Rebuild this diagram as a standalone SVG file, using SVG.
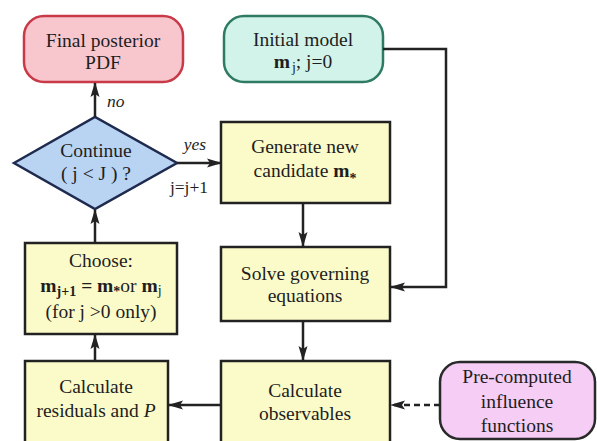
<svg xmlns="http://www.w3.org/2000/svg" width="597" height="441" viewBox="0 0 597 441" font-family="'Liberation Serif', 'Times New Roman', serif">
<defs>
<style>
text{font-family:'Liberation Serif','Times New Roman',serif;font-size:19.5px;fill:#1e1e1e;text-anchor:middle}
.box{fill:#fbfbc9;stroke:#222;stroke-width:2.5}
.conn{fill:none;stroke:#222;stroke-width:2.5}
.it{font-style:italic}
.b{font-weight:bold}
.sub{font-size:14px}
.lbl{font-size:17.5px}
</style>
<marker id="ah" markerUnits="userSpaceOnUse" markerWidth="16" markerHeight="12" refX="14" refY="6" orient="auto">
<path d="M0,1.5 L15,6 L0,10.5 L3,6 Z" fill="#222"/>
</marker>
</defs>
<rect width="597" height="441" fill="#fff"/>
<g id="final">
<rect x="24" y="16" width="159" height="66" rx="20" fill="#f8c6cd" stroke="#c83a48" stroke-width="2.5"/>
<text x="103" y="47">Final posterior</text>
<text x="103" y="69">PDF</text>
</g>
<g id="initial">
<rect x="224" y="16" width="159" height="66" rx="20" fill="#d2f3ea" stroke="#2e7a62" stroke-width="2.5"/>
<text x="303" y="46">Initial model</text>
<text x="303" y="68"><tspan class="b">m</tspan><tspan class="sub" dx="2" dy="4">j</tspan><tspan dy="-4">;  j=0</tspan></text>
</g>
<g id="decision">
<polygon points="14,163 95,117 177,163 95,209" fill="#b9d3f3" stroke="#1e2a4e" stroke-width="2.5"/>
<text x="96" y="157">Continue</text>
<text x="96" y="180">( j &lt; J ) ?</text>
</g>
<g id="generate">
<rect class="box" x="221" y="122" width="169" height="81"/>
<text x="305" y="153">Generate new</text>
<text x="305" y="177">candidate <tspan class="b">m</tspan><tspan class="sub b" dy="6">*</tspan></text>
</g>
<g id="choose">
<rect class="box" x="25" y="243" width="152" height="91"/>
<text x="101" y="267">Choose:</text>
<text x="101" y="292"><tspan class="b">m</tspan><tspan class="sub b" dy="4">j+1</tspan><tspan class="b" dy="-4"> = m</tspan><tspan class="sub b" dy="4">*</tspan><tspan dy="-4">or </tspan><tspan class="b">m</tspan><tspan class="sub" dy="3">j</tspan></text>
<text x="101" y="318">(for j &gt;0 only)</text>
</g>
<g id="solve">
<rect class="box" x="221" y="247" width="169" height="74"/>
<text x="305" y="280">Solve governing</text>
<text x="305" y="302">equations</text>
</g>
<g id="residuals">
<rect class="box" x="25" y="361" width="143" height="90"/>
<text x="96" y="393">Calculate</text>
<text x="96" y="417">residuals and <tspan class="it">P</tspan></text>
</g>
<g id="observables">
<rect class="box" x="221" y="361" width="169" height="90"/>
<text x="305" y="397">Calculate</text>
<text x="305" y="420">observables</text>
</g>
<g id="precomputed">
<rect x="440" y="362" width="155" height="77" rx="20" fill="#f5cdf5" stroke="#2a2a2a" stroke-width="2.5"/>
<text x="517" y="383">Pre-computed</text>
<text x="517" y="408">influence</text>
<text x="517" y="432">functions</text>
</g>
<g id="connectors">
<line class="conn" x1="95" y1="117" x2="95" y2="83" marker-end="url(#ah)"/>
<line class="conn" x1="177" y1="163" x2="221" y2="163" marker-end="url(#ah)"/>
<line class="conn" x1="95" y1="243" x2="95" y2="210" marker-end="url(#ah)"/>
<line class="conn" x1="95" y1="361" x2="95" y2="335" marker-end="url(#ah)"/>
<line class="conn" x1="303" y1="203" x2="303" y2="246" marker-end="url(#ah)"/>
<line class="conn" x1="303" y1="321" x2="303" y2="360" marker-end="url(#ah)"/>
<line class="conn" x1="221" y1="405" x2="169" y2="405" marker-end="url(#ah)"/>
<line class="conn" x1="440" y1="405" x2="391" y2="405" stroke-dasharray="6,4" marker-end="url(#ah)"/>
<polyline class="conn" points="383,49 446,49 446,287 391,287" marker-end="url(#ah)"/>
<text class="it lbl" x="107" y="107" style="text-anchor:start">no</text>
<text class="it lbl" x="195" y="150">yes</text>
<text class="lbl" x="189" y="193">j=j+1</text>
</g>
</svg>
